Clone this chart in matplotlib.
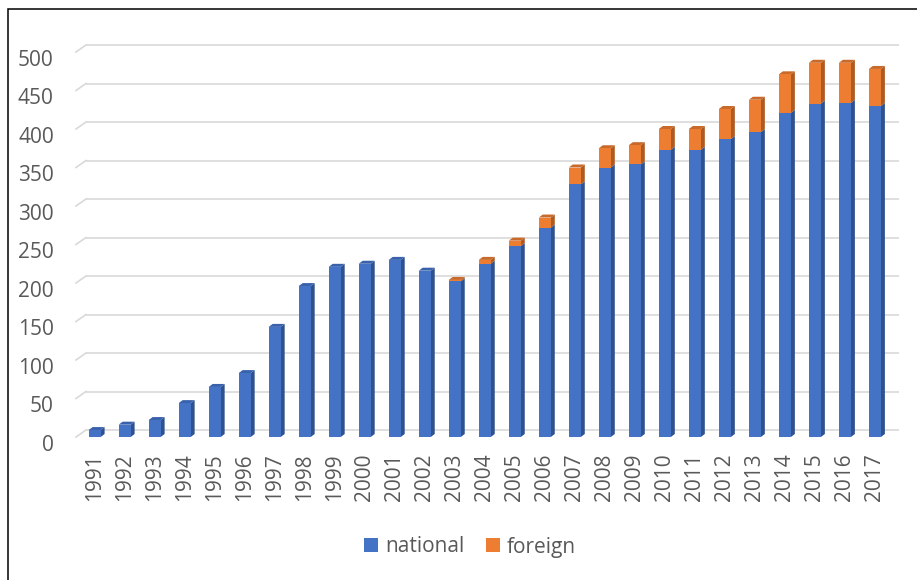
import matplotlib
matplotlib.use('Agg')
import matplotlib.pyplot as plt
from matplotlib.collections import PolyCollection
from matplotlib.patches import Rectangle
from matplotlib.transforms import ScaledTranslation

plt.rcParams['font.family'] = ['Open Sans', 'DejaVu Sans']

# values
years = [str(y) for y in range(1991, 2018)]
national = [9, 16, 22, 44, 65, 83, 143, 196, 221, 225, 230, 216, 202, 225,
            248, 272, 328, 350, 354, 373, 373, 387, 396, 421, 433, 434, 430]
foreign = [0, 0, 0, 0, 0, 0, 0, 0, 0, 0, 0, 0, 2, 5,
           7, 13, 22, 25, 25, 27, 27, 39, 42, 50, 53, 52, 48]
y_ticks = list(range(0, 501, 50))

blue, blue_side, blue_top = '#4472C4', '#2F528F', '#3A62AC'
orange, orange_side, orange_top = '#ED7D31', '#AE5A21', '#C9692A'
grid_color = '#D9D9D9'
text_color = '#595959'

W, H = 917, 580
fig = plt.figure(figsize=(W / 100, H / 100), dpi=100)
ax_l, ax_b, ax_w, ax_h = 76, 143, 813, 385
ax = fig.add_axes([ax_l / W, ax_b / H, ax_w / W, ax_h / H])
x0, x1 = -0.62, len(years) - 0.53
ax.set_xlim(x0, x1)
ax.set_ylim(0, 500)

# pixel -> data conversions for the fake 3D depth
px_x = ax_w / (x1 - x0)
px_y = ax_h / 500
bw = 12 / px_x
ddx, ddy = 4 / px_x, 3 / px_y      # bar depth
gdx, gdy = 10 / px_x, 7 / px_y     # back wall offset

# back wall gridlines with the little diagonal at the left
for v in y_ticks:
    ax.plot([x0 + gdx, x1 + gdx], [v + gdy, v + gdy], color=grid_color,
            lw=1.2, zorder=1, clip_on=False, solid_capstyle='butt')
    ax.plot([x0, x0 + gdx], [v, v + gdy], color=grid_color,
            lw=1.2, zorder=1, clip_on=False)

xs = list(range(len(years)))
nat_bars = ax.bar(xs, national, width=bw, color=blue, zorder=3, label='national')
for_bars = ax.bar(xs, foreign, width=bw, bottom=national, color=orange,
                  zorder=3, label='foreign')

sides, side_cols, tops, top_cols = [], [], [], []
for x, n, f in zip(xs, national, foreign):
    r = x + bw / 2
    sides.append([(r, 0), (r + ddx, ddy), (r + ddx, n + ddy), (r, n)])
    side_cols.append(blue_side)
    if f > 0:
        t = n + f
        sides.append([(r, n), (r + ddx, n + ddy), (r + ddx, t + ddy), (r, t)])
        side_cols.append(orange_side)
        top_c = orange_top
    else:
        t = n
        top_c = blue_top
    tops.append([(x - bw / 2, t), (r, t), (r + ddx, t + ddy), (x - bw / 2 + ddx, t + ddy)])
    top_cols.append(top_c)
ax.add_collection(PolyCollection(sides, facecolors=side_cols, edgecolors='none', zorder=2))
ax.add_collection(PolyCollection(tops, facecolors=top_cols, edgecolors='none', zorder=2))

for s in ax.spines.values():
    s.set_visible(False)
ax.set_yticks(y_ticks)
ax.set_xticks(xs)
ax.set_xticklabels(years, rotation=90)
ax.tick_params(axis='both', length=0, labelsize=15, labelcolor=text_color)
ax.tick_params(axis='y', pad=16)
ax.tick_params(axis='x', pad=12)

# value labels sit a little below the front edge of their gridline
shift = ScaledTranslation(0, -4 / 72, fig.dpi_scale_trans)
for lab in ax.get_yticklabels():
    lab.set_transform(lab.get_transform() + shift)

fig.legend(handles=[nat_bars, for_bars], loc='center', ncol=2,
           bbox_to_anchor=(470 / W, 1 - 547 / H), frameon=False,
           fontsize=15, labelcolor=text_color, handlelength=0.67,
           handleheight=0.67, handletextpad=0.35, columnspacing=1.05)

# chart border (cut off at right and bottom in the reference)
fig.add_artist(Rectangle((8 / W, -0.1), 1.2, 1.1 - 9.5 / H, transform=fig.transFigure,
                         fill=False, ec='black', lw=1.1))

fig.savefig('out.png', dpi=100)
